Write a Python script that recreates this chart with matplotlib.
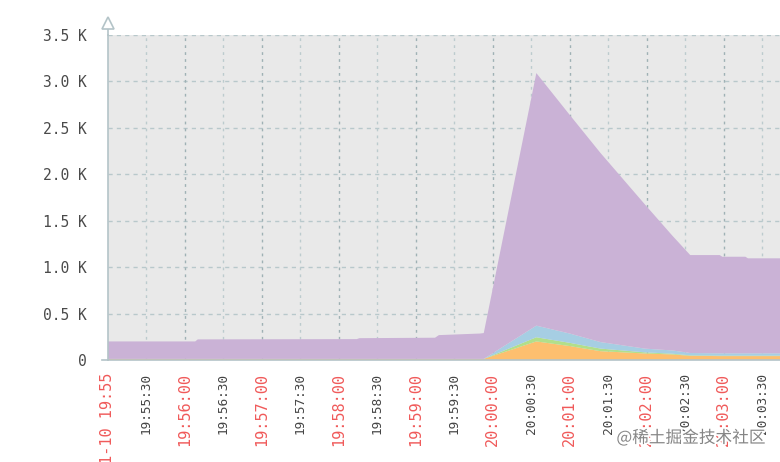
import matplotlib

matplotlib.use("Agg")
import matplotlib.pyplot as plt
import matplotlib.patheffects as pe

# seconds after 19:55:00 where the series change
t_sec = [0, 68, 70, 194, 196, 255, 258, 290, 293, 334, 360, 384, 419, 440, 454, 477, 479, 497, 499, 525]
s_orange = [12, 12, 12, 12, 12, 12, 12, 12, 12, 200, 150, 95, 70, 60, 45, 42, 42, 42, 42, 42]
s_green = [0, 0, 0, 0, 0, 0, 0, 0, 0, 45, 35, 28, 12, 8, 5, 5, 5, 5, 5, 5]
s_blue = [0, 0, 0, 0, 0, 0, 0, 0, 0, 125, 100, 70, 40, 35, 25, 25, 25, 25, 25, 25]
s_purple = [188, 188, 210, 213, 223, 228, 256, 273, 278, 2720, 2355, 2037, 1548, 1237, 1055,
            1058, 1040, 1040, 1023, 1023]

tick_sec = [0, 30, 60, 90, 120, 150, 180, 210, 240, 270, 300, 330, 360, 390, 420, 450, 480, 510]
tick_labels = ["11-10 19:55", "19:55:30", "19:56:00", "19:56:30", "19:57:00", "19:57:30",
               "19:58:00", "19:58:30", "19:59:00", "19:59:30", "20:00:00", "20:00:30",
               "20:01:00", "20:01:30", "20:02:00", "20:02:30", "20:03:00", "20:03:30"]
y_ticks = [0, 500, 1000, 1500, 2000, 2500, 3000, 3500]
y_labels = ["0", "0.5 K", "1.0 K", "1.5 K", "2.0 K", "2.5 K", "3.0 K", "3.5 K"]

_COLORS = ["#fdbf6f", "#b2df8a", "#a6cee3", "#cab2d6"]
_AXIS = "#b4c4c8"
_MONO = "DejaVu Sans Mono"

fig = plt.figure(figsize=(7.8, 4.62), dpi=100)
ax = fig.add_axes([108 / 780, 1 - 360 / 462, 1 - 108 / 780, 325 / 462])
ax.set_facecolor("#e9e9e9")

ax.stackplot(t_sec, s_orange, s_green, s_blue, s_purple, colors=_COLORS, lw=0, zorder=2)

ax.set_xlim(0, 524)
ax.set_ylim(0, 3500)

# dashed grid, minute lines a bit darker
for y in y_ticks[1:]:
    ax.axhline(y, color="#b8c8cb", lw=1, ls=(0, (3, 3)), zorder=1)
for i, x in enumerate(tick_sec[1:], start=1):
    ax.axvline(x, color="#9fb1b5" if i % 2 == 0 else "#bccbce", lw=1, ls=(0, (2, 3)), zorder=1)

for s in ("top", "right"):
    ax.spines[s].set_visible(False)
for s in ("left", "bottom"):
    ax.spines[s].set_color(_AXIS)
    ax.spines[s].set_linewidth(1.2)

# y axis runs up past the plot area and ends in an open arrow
ax.plot([0, 0], [1, 1 + 10 / 325], transform=ax.transAxes, color=_AXIS, lw=1.2, clip_on=False)
ax.plot([0], [1 + 12 / 325], transform=ax.transAxes, marker="^", ms=8, mfc="white",
        mec=_AXIS, mew=1.2, clip_on=False)
ax.plot([-6 / 672, 0], [0, 0], transform=ax.transAxes, color=_AXIS, lw=1.2, clip_on=False)

ax.set_yticks(y_ticks)
ax.set_yticklabels(y_labels, family=_MONO, fontsize=10.5, color="#4a4a4a")
ax.tick_params(axis="y", length=0, pad=15)

ax.set_xticks(tick_sec)
ax.set_xticklabels(tick_labels, rotation=90, family=_MONO)
ax.tick_params(axis="x", length=0, pad=9)
for i, lab in enumerate(ax.get_xticklabels()):
    if i % 2 == 0:
        lab.set_color("#f05a5a")
        lab.set_fontsize(11)
    else:
        lab.set_color("#444444")
        lab.set_fontsize(9.2)

fig.text(0.981, 0.052, "@稀土掘金技术社区", ha="right", va="center",
         family=["Noto Sans CJK SC", "DejaVu Sans"], fontsize=12, color="#858585",
         path_effects=[pe.withStroke(linewidth=2.5, foreground="white")])

fig.savefig("out.png", dpi=100)
